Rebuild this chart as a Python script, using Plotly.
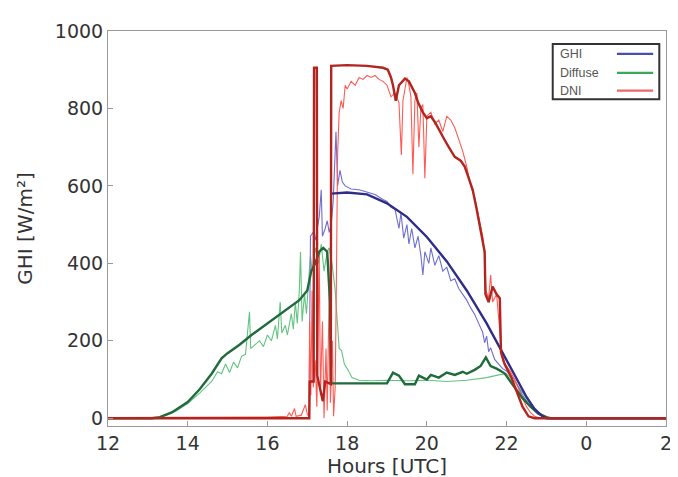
import plotly.graph_objects as go

# ---------------- data (hours; values after midnight are 24+) ----------------
tick_vals = [12, 14, 16, 18, 20, 22, 24, 26]
tick_text = ["12", "14", "16", "18", "20", "22", "0", "2"]
y_ticks = [0, 200, 400, 600, 800, 1000]

diff_thin_t = [12, 13.2, 13.4, 13.7, 14.0, 14.3, 14.6, 14.75, 14.85, 14.95, 15.05, 15.15, 15.25, 15.35,
               15.45, 15.55, 15.58, 15.7, 15.8, 15.9, 16.0, 16.1, 16.2, 16.25, 16.32, 16.36, 16.45, 16.5,
               16.6, 16.65, 16.7, 16.75, 16.8, 16.83, 16.87, 16.93, 16.98, 17.03, 17.08, 17.12, 17.2, 17.28,
               17.35, 17.42, 17.5, 17.55, 17.62, 17.7, 17.75, 17.8, 17.86, 17.93, 18.02, 18.12, 18.3, 18.6,
               19.0, 19.5, 20.0, 20.5, 21.0, 21.5, 21.8, 22.0, 22.2, 22.4, 22.6, 22.8, 23.0, 23.15, 26]
diff_thin_v = [0, 0, 5, 18, 38, 65, 95, 120, 115, 140, 118, 145, 130, 160,
               165, 275, 180, 190, 200, 185, 215, 200, 240, 205, 300, 220, 240, 215,
               270, 230, 300, 245, 330, 430, 250, 320, 270, 350, 420, 380, 440, 400,
               450, 380, 430, 440, 400, 330, 250, 180, 175, 140, 125, 105, 98, 97,
               98, 97, 98, 95, 98, 105, 112, 115, 95, 65, 38, 15, 3, 0, 0]

diff_thick_t = [12, 13.1, 13.3, 13.6, 14.0, 14.3, 14.6, 14.85, 15.0, 15.3, 15.6, 16.0, 16.4, 16.8, 17.0,
                17.1, 17.2, 17.3, 17.4, 17.5, 17.57, 17.6, 19.0, 19.15, 19.3, 19.45, 19.7, 19.8, 19.9,
                20.0, 20.1, 20.3, 20.5, 20.7, 20.9, 21.0, 21.2, 21.35, 21.48, 21.6, 21.75, 21.95, 22.2,
                22.4, 22.6, 22.8, 23.0, 23.1, 26]
diff_thick_v = [0, 0, 3, 15, 42, 75, 115, 155, 168, 190, 215, 245, 275, 305, 330,
                380, 400, 430, 440, 430, 300, 90, 90, 118, 110, 88, 88, 110, 105,
                100, 112, 105, 118, 112, 120, 115, 125, 135, 157, 135, 128, 116, 80,
                52, 30, 12, 3, 0, 0]

ghi_thin_t = [17.05, 17.08, 17.15, 17.2, 17.3, 17.35, 17.38, 17.45, 17.5, 17.55, 17.6, 17.65, 17.72, 17.76,
              17.82, 17.88, 17.95, 18.1, 18.3, 18.5, 18.7, 18.9, 19.0, 19.1, 19.2, 19.3, 19.35, 19.42,
              19.5, 19.55, 19.62, 19.7, 19.78, 19.85, 19.9, 19.95, 20.05, 20.1, 20.2, 20.3, 20.4, 20.5,
              20.6, 20.7, 20.8, 20.9, 21.0, 21.1, 21.2, 21.3, 21.4, 21.45, 21.5, 21.55, 21.6, 21.7, 21.8,
              21.9, 22.0, 22.1, 22.2, 22.3, 22.4, 22.5, 22.6, 22.8, 23.0, 26]
ghi_thin_v = [100, 470, 480, 460, 520, 590, 470, 490, 510, 480, 500, 560, 740, 600,
              640, 610, 600, 592, 590, 585, 578, 565, 560, 545, 540, 490, 530, 465,
              500, 450, 490, 440, 470, 420, 370, 430, 400, 440, 395, 420, 380, 390,
              355, 360, 335, 320, 305, 285, 268, 245, 222, 195, 212, 172, 182, 152, 140,
              128, 122, 112, 100, 80, 60, 45, 30, 10, 0, 0]

ghi_thick_t = [17.6, 18.0, 18.5, 19.0, 19.5, 20.0, 20.5, 21.0, 21.5, 22.0, 22.3, 22.5, 22.7, 22.9, 23.0, 26]
ghi_thick_v = [580, 583, 578, 555, 520, 468, 405, 330, 245, 150, 92, 55, 24, 5, 0, 0]

dni_thin_t = [12, 14, 15, 16, 16.5, 16.55, 16.6, 16.68, 16.72, 16.85, 16.95, 17.0, 17.04, 17.06, 17.09,
              17.12, 17.15, 17.2, 17.24, 17.3, 17.33, 17.38, 17.42, 17.47, 17.5, 17.55, 17.58, 17.63,
              17.66, 17.7, 17.73, 17.76, 17.8, 17.85, 17.9, 17.95, 18.0, 18.1, 18.2, 18.3, 18.4, 18.5,
              18.6, 18.7, 18.8, 18.9, 19.0, 19.1, 19.2, 19.3, 19.36, 19.4, 19.5, 19.55, 19.6, 19.65,
              19.7, 19.75, 19.8, 19.85, 19.9, 19.95, 20.0, 20.1, 20.2, 20.3, 20.4, 20.5, 20.6, 20.7,
              20.8, 20.9, 21.0, 21.1, 21.2, 21.3, 21.4, 21.45, 21.48, 21.55, 21.6, 21.65, 21.75, 21.85,
              21.9, 22.0, 22.1, 22.2, 22.3, 22.4, 22.5, 22.6, 22.7, 22.8, 26]
dni_thin_v = [2, 2, 3, 3, 5, 15, 5, 25, 5, 8, 35, 10, 5, 250, 60,
              330, 80, 150, 30, 420, 60, 250, 0, 180, 20, 330, 40, 200,
              5, 80, 350, 680, 790, 820, 800, 860, 850, 870, 860, 880, 875, 885,
              880, 885, 875, 870, 860, 830, 840, 815, 680, 820, 880, 860, 830, 630,
              820, 840, 700, 800, 810, 620, 780, 790, 760, 770, 740, 780, 770, 750,
              720, 690, 650, 600, 570, 520, 470, 420, 330, 310, 370, 300, 320, 200,
              150, 135, 120, 100, 75, 50, 30, 15, 5, 2, 2]

dni_thick_t = [12, 17.05, 17.06, 17.16, 17.17, 17.24, 17.25, 17.39, 17.45, 17.59, 17.6, 18.0, 18.5, 18.9,
               19.02, 19.1, 19.15, 19.22, 19.3, 19.45, 19.55, 19.6, 19.7, 19.78, 19.85, 19.9, 20.0,
               20.1, 20.2, 20.3, 20.45, 20.55, 20.7, 20.85, 20.95, 21.05, 21.15, 21.25, 21.35, 21.45,
               21.47, 21.55, 21.65, 21.75, 21.83, 21.86, 21.95, 22.1, 22.25, 22.4, 22.55, 22.7, 26]
dni_thick_v = [0, 0, 95, 95, 905, 905, 110, 44, 95, 88, 910, 912, 910, 905,
               900, 880, 860, 820, 860, 877, 870, 860, 840, 815, 800, 790, 775,
               780, 765, 745, 718, 700, 675, 665, 650, 620, 590, 540, 480, 430,
               320, 300, 340, 320, 310, 170, 140, 110, 70, 30, 5, 0, 0]

legend_names = ["GHI", "Diffuse", "DNI"]
legend_colors = ["#4b4bb0", "#3aa85c", "#e86a6a"]

# ---------------- figure ----------------
fig = go.Figure()

def add(t, v, color, width):
    fig.add_trace(go.Scatter(x=t, y=v, mode="lines", line=dict(color=color, width=width),
                             showlegend=False, hoverinfo="skip"))

add(diff_thin_t, diff_thin_v, "#62c480", 1.1)
add(ghi_thin_t, ghi_thin_v, "#6e6ed2", 1.1)
add(dni_thin_t, dni_thin_v, "#ff5b55", 1.1)
add(diff_thick_t, diff_thick_v, "#1f6b3b", 2.4)
add(ghi_thick_t, ghi_thick_v, "#2e2e8a", 2.4)
add(dni_thick_t, dni_thick_v, "#b3241f", 2.4)

# custom legend (text left, line sample right), paper coordinates
x0, x1 = 0.797, 0.988
y0, y1 = 0.827, 0.967
fig.add_shape(type="rect", xref="paper", yref="paper", x0=x0, x1=x1, y0=y0, y1=y1,
              line=dict(color="#333333", width=2), fillcolor="white", layer="above")
rows = [0.942, 0.894, 0.849]
for name, col, yy in zip(legend_names, legend_colors, rows):
    fig.add_annotation(x=0.807, y=yy, xref="paper", yref="paper", text=name, showarrow=False,
                       xanchor="left", yanchor="middle",
                       font=dict(family="Liberation Sans, Arial, sans-serif", size=12.5, color="#555555"))
    fig.add_shape(type="line", xref="paper", yref="paper", x0=0.912, x1=0.977, y0=yy, y1=yy,
                  line=dict(color=col, width=2.2), layer="above")

axis_common = dict(showline=True, mirror=True, linecolor="#9a9a9a", linewidth=1,
                   ticks="inside", ticklen=5, tickcolor="#9a9a9a", showgrid=False, zeroline=False,
                   tickfont=dict(family="DejaVu Sans, sans-serif", size=19, color="#333333"))

fig.update_layout(
    width=678, height=477,
    margin=dict(l=100, r=20, t=20, b=59),
    paper_bgcolor="white", plot_bgcolor="white",
    xaxis=dict(range=[12, 26], tickvals=tick_vals, ticktext=tick_text,
               title=dict(text="Hours [UTC]", standoff=3,
                          font=dict(family="DejaVu Sans, sans-serif", size=20, color="#333333")),
               **axis_common),
    yaxis=dict(range=[-20, 1000], tickvals=y_ticks,
               title=dict(text="GHI [W/m²]", standoff=16,
                          font=dict(family="DejaVu Sans, sans-serif", size=20, color="#333333")),
               **axis_common),
)

fig.write_html("out.html")
